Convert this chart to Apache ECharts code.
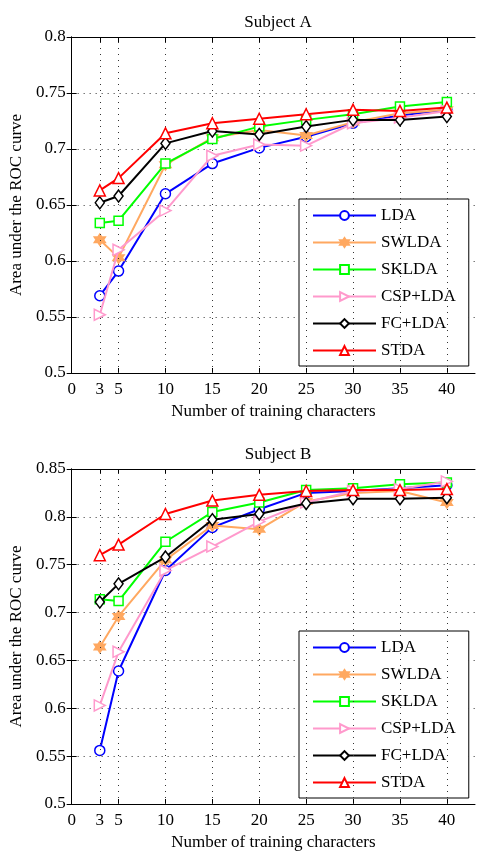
<!DOCTYPE html>
<html>
<head>
<meta charset="utf-8">
<script src="https://cdn.jsdelivr.net/npm/echarts@6/dist/echarts.min.js"></script>
<style>
  html, body { margin: 0; padding: 0; background: #fff; }
  #chart { width: 477px; height: 852px; }
</style>
</head>
<body>
<div id="chart"></div>
<script>
// training characters on the x axis
let chars = [3, 5, 10, 15, 20, 25, 30, 35, 40]
let xTicks = [0, 3, 5, 10, 15, 20, 25, 30, 35, 40]
let methods = ['LDA', 'SWLDA', 'SKLDA', 'CSP+LDA', 'FC+LDA', 'STDA']

// Subject A
let ldaA   = [0.569, 0.591, 0.660, 0.687, 0.701, 0.711, 0.723, 0.730, 0.735]
let swldaA = [0.619, 0.603, 0.686, 0.710, 0.717, 0.712, 0.724, 0.732, 0.735]
let skldaA = [0.634, 0.636, 0.687, 0.709, 0.720, 0.726, 0.731, 0.738, 0.742]
let cspA   = [0.552, 0.610, 0.645, 0.694, 0.704, 0.703, 0.723, 0.728, 0.734]
let fcA    = [0.652, 0.658, 0.705, 0.716, 0.713, 0.720, 0.726, 0.726, 0.729]
let stdaA  = [0.663, 0.674, 0.714, 0.723, 0.727, 0.731, 0.735, 0.734, 0.737]

// Subject B
let ldaB   = [0.556, 0.639, 0.744, 0.789, 0.808, 0.825, 0.827, 0.830, 0.833]
let swldaB = [0.664, 0.696, 0.755, 0.791, 0.787, 0.816, 0.825, 0.827, 0.815]
let skldaB = [0.714, 0.712, 0.774, 0.805, 0.815, 0.828, 0.830, 0.834, 0.836]
let cspB   = [0.603, 0.659, 0.744, 0.769, 0.795, 0.815, 0.827, 0.829, 0.837]
let fcB    = [0.711, 0.730, 0.758, 0.797, 0.803, 0.814, 0.819, 0.819, 0.820]
let stdaB  = [0.760, 0.771, 0.803, 0.817, 0.823, 0.827, 0.828, 0.828, 0.829]

let colors = ['#0000ff', '#ffa860', '#00ff00', '#ff99cc', '#000000', '#ff0000']
let symbols = [
  'circle',
  'path://M0,-10 L2.9,-5 L8.66,-5 L5.8,0 L8.66,5 L2.9,5 L0,10 L-2.9,5 L-8.66,5 L-5.8,0 L-8.66,-5 L-2.9,-5 Z',
  'rect', 'triangle', 'diamond', 'triangle'
]
let symSizes = [10, 11, 9, 11, 10, 11]
let symRot = [0, 0, 0, -90, 0, 0]

let font = 'Liberation Serif'
let fs = 17
let grids = [
  { left: 71, right: 2, top: 37, height: 336 },
  { left: 71, right: 2, top: 469, height: 335 }
]

function makeSeries(gi, values) {
  return values.map(function (vals, i) {
    return {
      name: methods[i],
      type: 'line',
      xAxisIndex: gi * 2,
      yAxisIndex: gi * 2,
      data: chars.map(function (c, k) { return [c, vals[k]] }),
      symbol: symbols[i],
      symbolSize: i == 4 ? [9, 12] : symSizes[i],
      symbolRotate: symRot[i],
      showAllSymbol: true,
      lineStyle: { color: colors[i], width: 2 },
      itemStyle: {
        color: i == 1 ? colors[i] : '#fff',
        borderColor: colors[i],
        borderWidth: 1.5
      },
      z: 3 + i,
      animation: false
    }
  })
}

function xAxes(gi) {
  let base = {
    gridIndex: gi, type: 'value', min: 0, max: 43,
    axisLine: { lineStyle: { color: '#000' } },
    axisTick: { inside: true, length: 5, customValues: xTicks, lineStyle: { color: '#000' } },
    splitLine: { show: false }
  }
  return [
    Object.assign({}, base, {
      position: 'bottom',
      name: 'Number of training characters',
      nameLocation: 'middle', nameGap: 30,
      nameTextStyle: { fontFamily: font, fontSize: fs, color: '#000' },
      axisLabel: { customValues: xTicks, margin: 8, fontFamily: font, fontSize: fs, color: '#000' }
    }),
    Object.assign({}, base, { position: 'top', axisLabel: { show: false } })
  ]
}

function yAxes(gi, min, max) {
  let base = {
    gridIndex: gi, type: 'value', min: min, max: max, interval: 0.05,
    axisLine: { lineStyle: { color: '#000' } },
    axisTick: { inside: true, length: 5, lineStyle: { color: '#000' } }
  }
  return [
    Object.assign({}, base, {
      position: 'left',
      name: 'Area under the ROC curve',
      nameLocation: 'middle', nameGap: 44,
      nameTextStyle: { fontFamily: font, fontSize: fs, color: '#000' },
      axisLabel: { margin: 6, fontFamily: font, fontSize: fs, color: '#000' },
      splitLine: { show: true, lineStyle: { color: '#333', type: [1, 5] } }
    }),
    Object.assign({}, base, { position: 'right', axisLabel: { show: false }, splitLine: { show: false } })
  ]
}

// vertical dotted grid lines at each x tick
function vLines(gi) {
  return {
    type: 'line', xAxisIndex: gi * 2, yAxisIndex: gi * 2, data: [],
    markLine: {
      silent: true, symbol: 'none', label: { show: false },
      lineStyle: { color: '#333', type: [1, 5], width: 1 },
      data: xTicks.slice(1).map(function (v) { return { xAxis: v } }),
      animation: false
    }
  }
}

function legendAt(top) {
  return {
    data: methods, orient: 'vertical', left: 299, top: top,
    itemWidth: 63, itemHeight: 11, itemGap: 10,
    padding: [8, 13, 7, 13],
    backgroundColor: '#fff', borderColor: '#000', borderWidth: 1,
    textStyle: { fontFamily: font, fontSize: fs, color: '#000' },
    selectedMode: false
  }
}

var myChart = echarts.init(document.getElementById('chart'), null, { renderer: 'canvas' })
var option = {
  backgroundColor: '#fff',
  animation: false,
  title: [
    { text: 'Subject A', left: 273, top: 9, textAlign: 'center',
      textStyle: { fontFamily: font, fontSize: fs, fontWeight: 'normal', color: '#000' } },
    { text: 'Subject B', left: 273, top: 441, textAlign: 'center',
      textStyle: { fontFamily: font, fontSize: fs, fontWeight: 'normal', color: '#000' } }
  ],
  grid: grids,
  legend: [legendAt(199), legendAt(631)],
  xAxis: xAxes(0).concat(xAxes(1)),
  yAxis: yAxes(0, 0.5, 0.8).concat(yAxes(1, 0.5, 0.85)),
  series: [vLines(0), vLines(1)]
    .concat(makeSeries(0, [ldaA, swldaA, skldaA, cspA, fcA, stdaA]))
    .concat(makeSeries(1, [ldaB, swldaB, skldaB, cspB, fcB, stdaB]))
}
myChart.setOption(option)
</script>
</body>
</html>
